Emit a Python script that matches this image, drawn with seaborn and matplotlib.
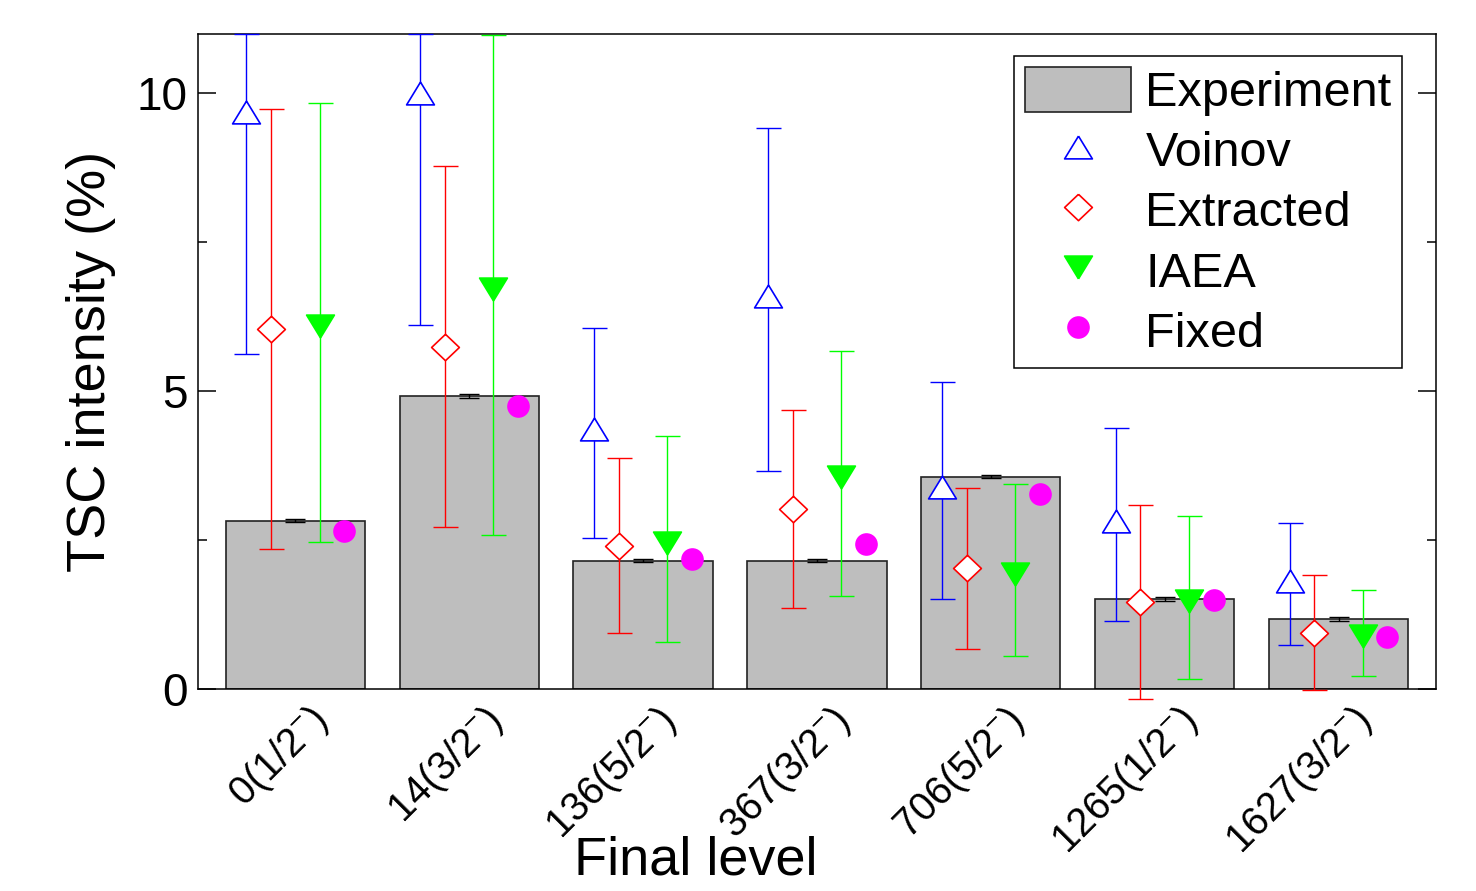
import numpy as np
import pandas as pd
import matplotlib
matplotlib.use("Agg")
import matplotlib.pyplot as plt
from matplotlib.ticker import MultipleLocator
from matplotlib.transforms import ScaledTranslation
import seaborn as sns

# ---------------- data ----------------
levels = [r"0(1/2$^{-}$)", r"14(3/2$^{-}$)", r"136(5/2$^{-}$)", r"367(3/2$^{-}$)",
          r"706(5/2$^{-}$)", r"1265(1/2$^{-}$)", r"1627(3/2$^{-}$)"]

experiment = [2.83, 4.92, 2.16, 2.16, 3.57, 1.51, 1.18]
experiment_err = [0.03, 0.03, 0.03, 0.03, 0.03, 0.03, 0.03]

voinov = [9.69, 10.01, 4.36, 6.60, 3.39, 2.83, 1.82]
voinov_lo = [5.63, 6.11, 2.54, 3.66, 1.52, 1.14, 0.74]
voinov_hi = [11.0, 11.0, 6.06, 9.41, 5.15, 4.38, 2.79]

extracted = [6.04, 5.75, 2.41, 3.02, 2.03, 1.46, 0.95]
extracted_lo = [2.36, 2.73, 0.94, 1.36, 0.68, -0.16, -0.01]
extracted_hi = [9.74, 8.78, 3.88, 4.69, 3.37, 3.09, 1.91]

iaea = [6.09, 6.72, 2.45, 3.56, 1.93, 1.48, 0.89]
iaea_lo = [2.47, 2.59, 0.79, 1.56, 0.55, 0.18, 0.23]
iaea_hi = [9.83, 10.98, 4.25, 5.67, 3.44, 2.90, 1.66]

fixed = [2.66, 4.76, 2.18, 2.44, 3.28, 1.50, 0.88]

# ---------------- style ----------------
sns.set_theme(style="white")
plt.rcParams["font.family"] = ["Liberation Sans", "DejaVu Sans"]
plt.rcParams["mathtext.fontset"] = "custom"
plt.rcParams["mathtext.rm"] = "Liberation Sans"
plt.rcParams["mathtext.it"] = "Liberation Sans"
plt.rcParams["mathtext.default"] = "regular"
plt.rcParams["text.color"] = "black"
plt.rcParams["axes.labelcolor"] = "black"
plt.rcParams["xtick.color"] = "black"
plt.rcParams["ytick.color"] = "black"

FS = 33
fig = plt.figure(figsize=(14.76, 8.91), dpi=100)
ax = fig.add_axes([0.134, 0.2264, 0.839, 0.7358])

df = pd.DataFrame({"level": levels, "value": experiment})
sns.barplot(data=df, x="level", y="value", color="#bebebe", edgecolor="#222222",
            linewidth=1.2, width=0.8, saturation=1, errorbar=None, ax=ax,
            label="Experiment")

x = np.arange(len(levels))
ax.errorbar(x, experiment, yerr=experiment_err, fmt="none", ecolor="black",
            elinewidth=1.0, capsize=7, capthick=1.0, clip_on=False, zorder=3)

tri_up = [(0, 0.82), (-1, -0.82), (1, -0.82), (0, 0.82)]
tri_dn = [(0, -0.82), (-1, 0.82), (1, 0.82), (0, -0.82)]
diamond = [(0, 0.95), (1, 0), (0, -0.95), (-1, 0), (0, 0.95)]

series = [
    ("Voinov", voinov, voinov_lo, voinov_hi, -0.28, "#0000ff", tri_up, "white", 20),
    ("Extracted", extracted, extracted_lo, extracted_hi, -0.14, "#ff0000", diamond, "white", 20),
    ("IAEA", iaea, iaea_lo, iaea_hi, 0.14, "#00ff00", tri_dn, "#00ff00", 20),
]
for name, vals, lo, hi, off, col, mk, fc, ms in series:
    v = np.array(vals)
    yerr = np.vstack([v - np.array(lo), np.array(hi) - v])
    ax.errorbar(x + off, v, yerr=yerr, fmt="none", ecolor=col, elinewidth=1.0,
                capsize=9, capthick=1.0, clip_on=False, zorder=3)
    ax.plot(x + off, v, ls="none", marker=mk, ms=ms, mfc=fc, mec=col, mew=1.2,
            label=name, zorder=4, clip_on=False)

ax.plot(x + 0.28, fixed, ls="none", marker="o", ms=16.3, mfc="#ff00ff",
        mec="#ff00ff", mew=0, label="Fixed", zorder=4)

# ---------------- axes ----------------
ax.set_xlim(-0.56, 6.56)
ax.set_ylim(0, 11)
ax.yaxis.set_major_locator(MultipleLocator(5))
ax.yaxis.set_minor_locator(MultipleLocator(2.5))
ax.tick_params(axis="y", which="major", direction="in", length=13, width=1.1,
               left=True, right=True, labelsize=FS, pad=7.5, colors="black")
ax.tick_params(axis="y", which="minor", direction="in", length=6.5, width=1.1,
               left=True, right=True)
ax.tick_params(axis="x", which="both", length=0, labelsize=28.5, pad=8)
for sp in ax.spines.values():
    sp.set_visible(True)
    sp.set_color("black")
    sp.set_linewidth(1.1)

ax.set_ylabel("TSC intensity (%)", fontsize=39, color="black")
ax.set_xlabel("Final level", fontsize=39, color="black")
ax.yaxis.set_label_coords(-0.066, 0.5)
ax.xaxis.set_label_coords(0.402, -0.223)

offset = ScaledTranslation(8.5 / 72, 0, fig.dpi_scale_trans)
for lbl in ax.get_xticklabels():
    lbl.set_rotation(45)
    lbl.set_ha("right")
    lbl.set_va("top")
    lbl.set_rotation_mode("anchor")
    lbl.set_color("black")
    lbl.set_transform(lbl.get_transform() + offset)

handles, labels = ax.get_legend_handles_labels()
order = ["Experiment", "Voinov", "Extracted", "IAEA", "Fixed"]
hmap = dict(zip(labels, handles))
leg = ax.legend([hmap[k] for k in order], order,
                loc="upper right", bbox_to_anchor=(0.9726, 0.966), borderaxespad=0,
                fontsize=35, frameon=True, fancybox=False, edgecolor="black",
                framealpha=1, numpoints=1, handlelength=2.18, handleheight=1.05,
                labelspacing=0.23, borderpad=0.22, handletextpad=0.3,
                labelcolor="black")
leg.get_frame().set_linewidth(1.1)

fig.savefig("out.png", dpi=100)
